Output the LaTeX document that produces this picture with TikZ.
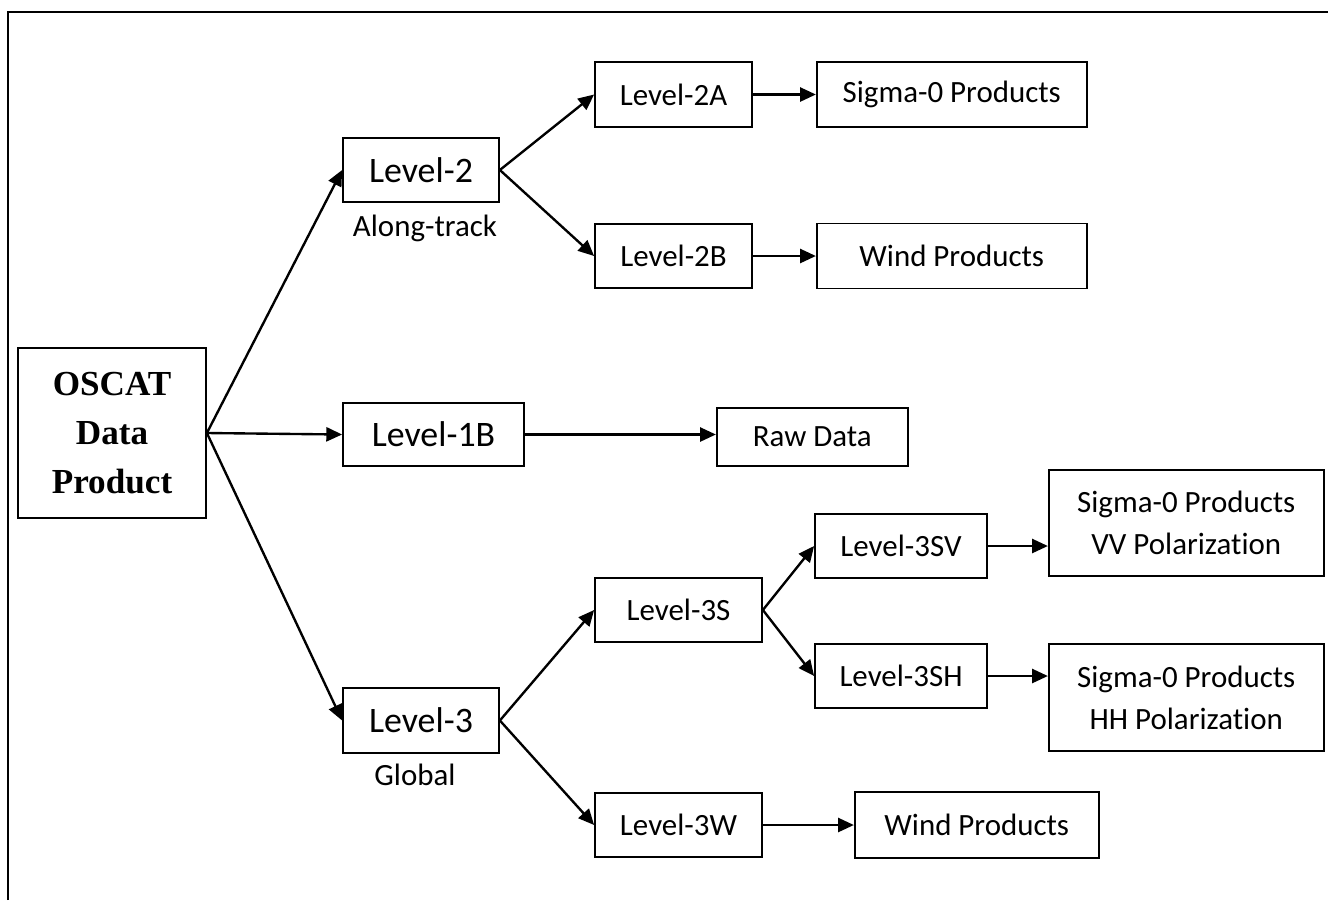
\documentclass[tikz,border=0pt]{standalone}
\usepackage{fontspec}
\setmainfont{Carlito}[Ligatures=NoCommon]
\newfontfamily\oscatfont{Liberation Serif}
\usepackage{tikz}
\usetikzlibrary{positioning}
\usetikzlibrary{arrows.meta}

\begin{document}
\begin{tikzpicture} [line width=1pt, >={Triangle[length=9pt,width=8pt]},
        box/.style = {draw, inner sep=0pt, minimum height=1.28cm, font=\fontsize{17.6}{24}\selectfont, align=center},
        bigbox/.style = {box, font=\fontsize{20.4}{24}\selectfont},
        tag/.style = {inner sep=0pt, font=\fontsize{17.6}{24}\selectfont},
        link/.style = {->, line width=1.35pt}]
        \useasboundingbox (0,0) rectangle (26.56,-18);
        %Rahmen
        \draw (0.16,-18) -- (0.16,-0.24) -- (26.56,-0.24);

        %Knoten
        \node[box, minimum width=3.76cm, minimum height=3.4cm, font=\oscatfont\bfseries\fontsize{20}{28}\selectfont] (oscat) at (2.24,-8.66) {OSCAT\\Data\\Product};

        \node[bigbox, minimum width=3.12cm] (lv2) at (8.42,-3.4) {Level-2};
        \node[tag] (lv2tag) [below = 0.22cm of lv2, xshift=0.08cm] {Along-track};
        \node[bigbox, minimum width=3.62cm, minimum height=1.26cm] (lv1b) at (8.67,-8.69) {Level-1B};
        \node[bigbox, minimum width=3.12cm, minimum height=1.3cm] (lv3) at (8.42,-14.41) {Level-3};
        \node[tag] (lv3tag) [below = 0.18cm of lv3, xshift=-0.12cm] {Global};

        \node[box, minimum width=3.14cm, minimum height=1.3cm] (lv2a) at (13.47,-1.89) {Level-2A};
        \node[box, minimum width=5.4cm, minimum height=1.3cm] (sig2a) [right = 1.26cm of lv2a] {Sigma-0 Products};
        \node[box, minimum width=3.14cm] (lv2b) at (13.47,-5.12) {Level-2B};
        \node[box, minimum width=5.4cm, minimum height=1.3cm] (wind2b) [right = 1.26cm of lv2b] {Wind Products};

        \node[box, minimum width=3.82cm, minimum height=1.16cm] (raw) [right = 3.82cm of lv1b, yshift=-0.05cm] {Raw Data};

        \node[box, minimum width=3.34cm] (lv3s) at (13.57,-12.2) {Level-3S};
        \node[box, minimum width=3.44cm] (lv3sv) at (18.02,-10.92) {Level-3SV};
        \node[box, minimum width=5.5cm, minimum height=2.12cm] (sigvv) [right = 1.2cm of lv3sv, yshift=0.46cm] {Sigma-0 Products\\VV Polarization};
        \node[box, minimum width=3.44cm] (lv3sh) at (18.02,-13.52) {Level-3SH};
        \node[box, minimum width=5.5cm, minimum height=2.14cm] (sighh) [right = 1.2cm of lv3sh, yshift=-0.43cm] {Sigma-0 Products\\HH Polarization};
        \node[box, minimum width=3.34cm] (lv3w) at (13.57,-16.5) {Level-3W};
        \node[box, minimum width=4.88cm, minimum height=1.32cm] (wind3w) [right = 1.82cm of lv3w] {Wind Products};

        %Pfeile
        \draw[link] (oscat.east) -- (lv2.west);
        \draw[link] (oscat.east) -- (lv1b.west);
        \draw[link] (oscat.east) -- (lv3.west);
        \draw[link] (lv2.east) -- (lv2a.west);
        \draw[link] (lv2.east) -- (lv2b.west);
        \draw[link] (lv2a) -- (sig2a);
        \draw[link] (lv2b.east) -- (lv2b.east -| wind2b.west);
        \draw[link] (lv1b.east) -- (lv1b.east -| raw.west);
        \draw[link] (lv3.east) -- (lv3s.west);
        \draw[link] (lv3.east) -- (lv3w.west);
        \draw[link] (lv3s.east) -- (lv3sv.west);
        \draw[link] (lv3s.east) -- (lv3sh.west);
        \draw[link] (lv3sv.east) -- (lv3sv.east -| sigvv.west);
        \draw[link] (lv3sh.east) -- (lv3sh.east -| sighh.west);
        \draw[link] (lv3w) -- (wind3w);

\end{tikzpicture}
\end{document}
